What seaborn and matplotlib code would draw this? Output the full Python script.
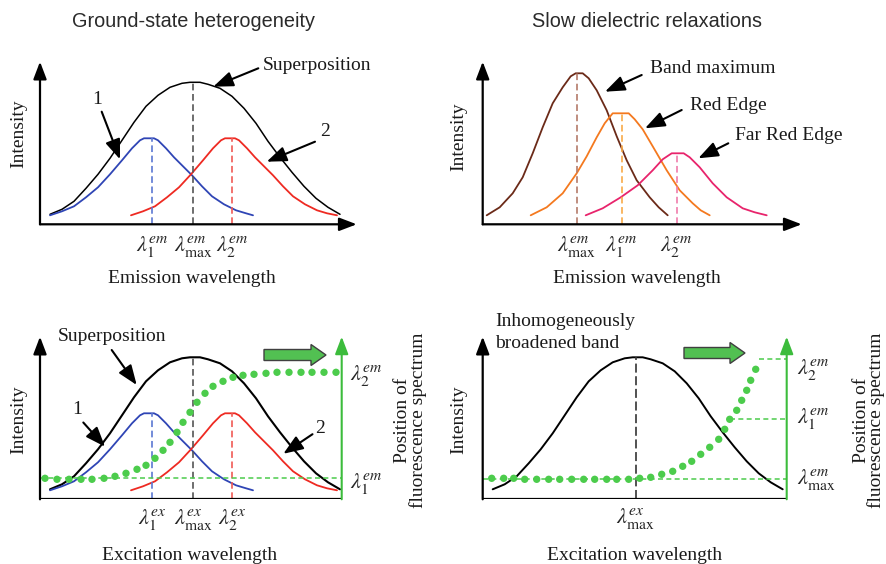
import matplotlib
matplotlib.use('Agg')
import matplotlib.pyplot as plt
from matplotlib.patches import FancyArrow, ArrowStyle
import numpy as np
import pandas as pd
import seaborn as sns

# ------------------------------------------------------------------
# DATA (panel units)
# ------------------------------------------------------------------
# broad band: superposition / inhomogeneously broadened band
band_x = [10, 22, 34, 46, 58, 70, 82, 94, 106, 118, 130, 142, 150, 160, 168,
          180, 192, 204, 216, 228, 240, 252, 264, 276, 288, 300]
band_y = [10, 15, 23, 36, 50, 66, 84, 102, 118, 129, 137, 141, 142, 142, 140,
          136, 128, 116, 101, 83, 67, 52, 38, 26, 17, 10]
# ground-state forms 1 (blue) and 2 (red)
form1_x = [10, 22, 34, 46, 58, 70, 82, 92, 100, 104, 114, 118, 126, 134, 144,
           152, 162, 172, 184, 196, 206, 213]
form1_y = [9, 13, 18, 27, 37, 50, 64, 76, 84, 86, 86, 84, 76, 67, 57,
           49, 38, 28, 20, 14, 11, 9]
form2_x = [91, 103, 115, 127, 139, 151, 163, 173, 181, 185, 195, 199, 207, 215, 225,
           233, 243, 253, 265, 277, 287, 297]
form2_y = [9, 13, 18, 27, 37, 50, 64, 76, 84, 86, 86, 84, 76, 67, 57,
           49, 38, 28, 20, 14, 11, 9]
hetero_peak_x = [112, 153, 192]
hetero_peak_y = [86, 142, 86]
hetero_em_labels = [r'$\lambda_1^{em}$', r'$\lambda_{\mathrm{max}}^{em}$', r'$\lambda_2^{em}$']
hetero_ex_labels = [r'$\lambda_1^{ex}$', r'$\lambda_{\mathrm{max}}^{ex}$', r'$\lambda_2^{ex}$']

# slow dielectric relaxations
bandmax_x = [4, 17, 30, 40, 50, 60, 70, 80, 88, 93, 100, 106, 114, 124, 134, 144, 154, 167, 176, 185]
bandmax_y = [9, 17, 31, 47, 71, 97, 121, 137, 148, 151, 151, 146, 134, 114, 88, 64, 44, 27, 17, 9]
rededge_x = [48, 64, 80, 94, 104, 114, 122, 130, 146, 152, 160, 170, 184, 197, 210, 218, 227]
rededge_y = [9, 17, 31, 51, 68, 87, 101, 111, 111, 105, 95, 78, 54, 34, 21, 14, 9]
farred_x = [103, 120, 138, 155, 170, 180, 189, 201, 207, 217, 230, 244, 260, 272, 284]
farred_y = [9, 16, 27, 39, 54, 65, 71, 71, 67, 57, 41, 27, 16, 12, 9]
relax_peak_x = [94, 139, 194]
relax_peak_y = [151, 111, 71]
relax_labels = [r'$\lambda_{\mathrm{max}}^{em}$', r'$\lambda_1^{em}$', r'$\lambda_2^{em}$']

# position of fluorescence spectrum vs excitation wavelength
hetero_shift_x = [5, 17, 29, 41, 52, 64, 75, 86, 97, 106, 115, 123, 130, 137, 143,
                  150, 157, 165, 173, 183, 193, 203, 214, 226, 237, 249, 261, 272, 284, 296]
hetero_shift_y = [21, 20, 20, 20, 20, 21, 23, 26, 30, 34, 41, 49, 57, 67, 77,
                  87, 97, 106, 113, 118, 122, 124, 125, 126, 127, 127, 127, 127, 127, 127]
hetero_level_y = [21]
hetero_right_labels = [r'$\lambda_2^{em}$', r'$\lambda_1^{em}$']

redge_shift_x = [9, 21, 31, 42, 54, 66, 77, 89, 101, 112, 124, 134, 146, 157, 168,
                 179, 190, 200, 209, 218, 227, 236, 242, 247, 254, 259, 264, 268, 273]
redge_shift_y = [21, 21, 21, 20, 20, 20, 20, 20, 20, 20, 20, 20, 20, 21, 22,
                 25, 28, 33, 38, 45, 52, 60, 70, 80, 89, 99, 109, 119, 130]
redge_level_y = [20, 80, 140]
redge_level_start = [0, 247, 276]
redge_peak_x = [153]
redge_peak_y = [142]
redge_right_labels = [r'$\lambda_{\mathrm{max}}^{em}$', r'$\lambda_1^{em}$', r'$\lambda_2^{em}$']
redge_tick_label = [r'$\lambda_{\mathrm{max}}^{ex}$']

# ------------------------------------------------------------------
# STYLE
# ------------------------------------------------------------------
sns.set_theme(style='white')
plt.rcParams['font.family'] = ['Liberation Serif', 'DejaVu Serif']
plt.rcParams['mathtext.fontset'] = 'stix'
plt.rcParams['lines.scale_dashes'] = False

FW, FH = 887, 564
fig = plt.figure(figsize=(FW / 100, FH / 100), dpi=100)
fig.patch.set_facecolor('white')

BLUE, RED = '#2f45b5', '#ee2a22'
BROWN, ORANGE, PINK = '#6b2a18', '#f4791f', '#e8246c'
GREEN, GREEN_D, GREEN_FILL = '#3cbc3c', '#4ccc4c', '#52c052'
TXT = 14
MATH = 16


def panel(left, bottom, w, h):
    ax = fig.add_axes([left / FW, 1 - bottom / FH, w / FW, h / FH])
    ax.set_xlim(0, w)
    ax.set_ylim(0, h)
    ax.axis('off')
    return ax


def arrow_data(ax, p0, p1, color='black', lw=1.6, hl=10.5, hw=4.0):
    ax.annotate('', xy=p1, xytext=p0, xycoords='data', textcoords='data',
                arrowprops=dict(arrowstyle=ArrowStyle('-|>', head_length=hl, head_width=hw),
                                color=color, lw=lw, shrinkA=0, shrinkB=0,
                                mutation_scale=1),
                annotation_clip=False)


def arrow_fig(ax, p0, p1, lw=1.5):
    ax.annotate('', xy=(p1[0], FH - p1[1]), xytext=(p0[0], FH - p0[1]),
                xycoords='figure pixels', textcoords='figure pixels',
                arrowprops=dict(arrowstyle=ArrowStyle('-|>', head_length=12, head_width=4.6),
                                color='black', lw=lw, shrinkA=0, shrinkB=0,
                                mutation_scale=1),
                annotation_clip=False)


def ftext(px, py, s, **kw):
    kw.setdefault('fontsize', TXT)
    kw.setdefault('color', '#1a1a1a')
    fig.text(px / FW, 1 - py / FH, s, **kw)


def curve(ax, xs, ys, color, lw=1.3):
    sns.lineplot(x=xs, y=ys, ax=ax, color=color, lw=lw, sort=False,
                 estimator=None, legend=False)


def dots(ax, xs, ys):
    sns.scatterplot(x=xs, y=ys, ax=ax, color=GREEN_D, s=28, edgecolor='none',
                    legend=False, zorder=4)


# ------------------------------------------------------------------
# PANEL A : ground-state heterogeneity (emission)
# ------------------------------------------------------------------
L, B, W, H = 40, 224.3, 316.7, 162.6
axA = panel(L, B, W, H)
curve(axA, band_x, band_y, 'black', lw=1.1)
curve(axA, form1_x, form1_y, BLUE)
curve(axA, form2_x, form2_y, RED)
for x, h, c in zip(hetero_peak_x, hetero_peak_y, ['#5b78d2', '#555555', '#f05a55']):
    axA.vlines(x, 0, h, colors=c, lw=1.2, linestyles=[(0, (4.8, 2.6))])
arrow_data(axA, (0, 0), (W, 0))
arrow_data(axA, (0, 0), (0, H))
axA.set_xlim(0, W); axA.set_ylim(0, H)
for x, lab in zip(hetero_peak_x, hetero_em_labels):
    axA.text(x, -22.4, lab, ha='center', va='center', fontsize=MATH, clip_on=False)

ftext(194, 21.7, 'Ground-state heterogeneity', family='Liberation Sans', ha='center',
      va='center', fontsize=14.3, color='#2a2a2a')
ftext(18.3, 133.3, 'Intensity', rotation=90, ha='center', va='center')
ftext(192, 278.3, 'Emission wavelength', ha='center', va='center')
ftext(263, 65, 'Superposition', ha='left', va='center')
arrow_fig(axA, (258.3, 68.3), (213.3, 86.7))
ftext(96.7, 100, '1', ha='center', va='center')
arrow_fig(axA, (101.7, 111.7), (120, 159.3))
ftext(325, 131.7, '2', ha='center', va='center')
arrow_fig(axA, (315, 141.7), (266.7, 161.7))

# ------------------------------------------------------------------
# PANEL B : slow dielectric relaxations (emission)
# ------------------------------------------------------------------
L, B, W, H = 482.7, 224.3, 319, 162.6
axB = panel(L, B, W, H)
curve(axB, bandmax_x, bandmax_y, BROWN)
curve(axB, rededge_x, rededge_y, ORANGE)
curve(axB, farred_x, farred_y, PINK)
for x, h, c in zip(relax_peak_x, relax_peak_y, ['#b47a6a', '#f8aa48', '#f07cac']):
    axB.vlines(x, 0, h, colors=c, lw=1.2, linestyles=[(0, (4.8, 2.6))])
arrow_data(axB, (0, 0), (W, 0))
arrow_data(axB, (0, 0), (0, H))
axB.set_xlim(0, W); axB.set_ylim(0, H)
for x, lab in zip(relax_peak_x, relax_labels):
    axB.text(x, -22.4, lab, ha='center', va='center', fontsize=MATH, clip_on=False)

ftext(647, 21.7, 'Slow dielectric relaxations', family='Liberation Sans', ha='center',
      va='center', fontsize=14.3, color='#2a2a2a')
ftext(458.3, 136.7, 'Intensity', rotation=90, ha='center', va='center')
ftext(637, 278.3, 'Emission wavelength', ha='center', va='center')
ftext(650, 68.3, 'Band maximum', ha='left', va='center')
arrow_fig(axB, (641.7, 75), (605, 91.7))
ftext(690, 105, 'Red Edge', ha='left', va='center')
arrow_fig(axB, (681.7, 110), (645, 128.3))
ftext(735, 135, 'Far Red Edge', ha='left', va='center')
arrow_fig(axB, (728.3, 143.3), (698.3, 158.3))

# ------------------------------------------------------------------
# PANEL C : ground-state heterogeneity (excitation)
# ------------------------------------------------------------------
L, B, W, H = 40, 499.3, 301.7, 162.6
axC = panel(L, B, W, H)
curve(axC, band_x, band_y, 'black', lw=1.5)
curve(axC, form1_x, form1_y, BLUE)
curve(axC, form2_x, form2_y, RED)
for x, h, c in zip(hetero_peak_x, hetero_peak_y, ['#5b78d2', '#555555', '#f05a55']):
    axC.vlines(x, 0, h, colors=c, lw=1.2, linestyles=[(0, (4.8, 2.6))])
for yv in hetero_level_y:
    axC.hlines(yv, 0, W, colors=GREEN_D, lw=1.1, linestyles=[(0, (3.6, 2.4))])
dots(axC, hetero_shift_x, hetero_shift_y)
axC.plot([0, W], [0, 0], color='black', lw=1.6, solid_capstyle='butt')
arrow_data(axC, (0, 0), (0, H))
arrow_data(axC, (W, 0), (W, H), color=GREEN, lw=1.5)
axC.add_patch(FancyArrow(224, 144.3, 62, 0, width=11, head_width=21, head_length=15,
                         length_includes_head=True, fc=GREEN_FILL, ec='#404040',
                         lw=1.0, clip_on=False, zorder=5))
axC.set_xlim(0, W); axC.set_ylim(0, H)
for x, lab in zip(hetero_peak_x, hetero_ex_labels):
    axC.text(x, -20.7, lab, ha='center', va='center', fontsize=MATH, clip_on=False)
for y, lab in zip([124.3, 16], hetero_right_labels):
    axC.text(310, y, lab, ha='left', va='center', fontsize=MATH, clip_on=False)

ftext(18.3, 420, 'Intensity', rotation=90, ha='center', va='center')
ftext(190, 555, 'Excitation wavelength', ha='center', va='center')
ftext(410.5, 420, 'Position of\nfluorescence spectrum', rotation=90, ha='center',
      va='center', linespacing=0.82, multialignment='center')
ftext(57.3, 336.7, 'Superposition', ha='left', va='center')
arrow_fig(axC, (111.7, 350), (136.7, 385))
ftext(77.3, 410, '1', ha='center', va='center')
arrow_fig(axC, (83.3, 422.5), (105, 446.7))
ftext(320, 428.3, '2', ha='center', va='center')
arrow_fig(axC, (312.5, 434.2), (283.3, 453.8))

# ------------------------------------------------------------------
# PANEL D : inhomogeneously broadened band, red-edge excitation
# ------------------------------------------------------------------
L, B, W, H = 482.7, 499.3, 304, 162.6
axD = panel(L, B, W, H)
curve(axD, band_x, band_y, 'black', lw=1.4)
axD.vlines(redge_peak_x, 0, redge_peak_y, colors='#333333', lw=1.2,
           linestyles=[(0, (6.5, 2.6))])
for yv, x0 in zip(redge_level_y, redge_level_start):
    axD.hlines(yv, x0, W, colors=GREEN_D, lw=1.1, linestyles=[(0, (3.6, 2.4))])
dots(axD, redge_shift_x, redge_shift_y)
axD.plot([0, W], [0, 0], color='black', lw=1.6, solid_capstyle='butt')
arrow_data(axD, (0, 0), (0, H))
arrow_data(axD, (W, 0), (W, H), color=GREEN, lw=1.5)
axD.add_patch(FancyArrow(201.3, 146.3, 61, 0, width=11, head_width=21, head_length=15,
                         length_includes_head=True, fc=GREEN_FILL, ec='#404040',
                         lw=1.0, clip_on=False, zorder=5))
axD.set_xlim(0, W); axD.set_ylim(0, H)
axD.text(redge_peak_x[0], -19, redge_tick_label[0], ha='center', va='center',
         fontsize=MATH, clip_on=False)
for y, lab in zip([19.3, 81, 129.3], redge_right_labels):
    axD.text(314, y, lab, ha='left', va='center', fontsize=MATH, clip_on=False)

ftext(458.3, 420, 'Intensity', rotation=90, ha='center', va='center')
ftext(635, 555, 'Excitation wavelength', ha='center', va='center')
ftext(869, 420, 'Position of\nfluorescence spectrum', rotation=90, ha='center',
      va='center', linespacing=0.82, multialignment='center')
ftext(495, 321.7, 'Inhomogeneously', ha='left', va='center')
ftext(495, 343.3, 'broadened band', ha='left', va='center')

fig.savefig('out.png', dpi=100, facecolor='white')
